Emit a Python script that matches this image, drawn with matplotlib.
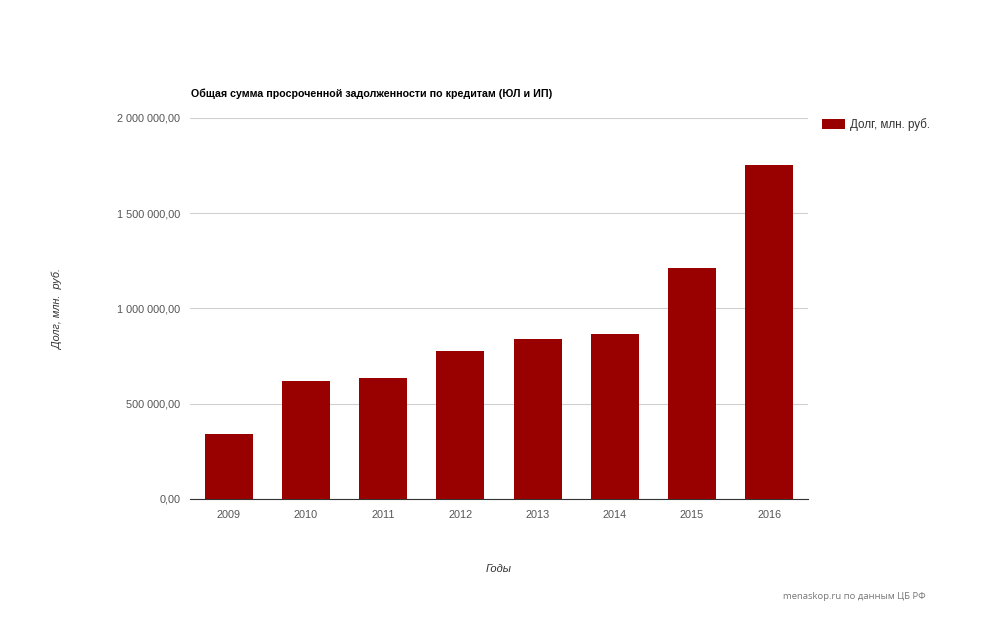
import matplotlib
matplotlib.use("Agg")
import matplotlib.pyplot as plt
from matplotlib.ticker import FuncFormatter

years = ["2009", "2010", "2011", "2012", "2013", "2014", "2015", "2016"]
debt = [341000, 620000, 636000, 778000, 840000, 866000, 1213000, 1753000]
yticks = [0, 500000, 1000000, 1500000, 2000000]

plt.rcParams['font.family'] = ['Liberation Sans', 'DejaVu Sans']

fig = plt.figure(figsize=(10, 6.18), dpi=100)
ax = fig.add_axes([0.19, 0.1926, 0.618, 0.6165])

x = range(len(years))
ax.bar(x, debt, width=0.62, color="#990000", label="Долг, млн. руб.", zorder=3)
ax.set_xlim(-0.5, len(years) - 0.5)
ax.set_ylim(0, 2000000)
ax.set_yticks(yticks)

def fmt(v, pos):
    s = f"{int(v):,}".replace(",", " ")
    return s + ",00"
ax.yaxis.set_major_formatter(FuncFormatter(fmt))
ax.set_xticks(list(x))
ax.set_xticklabels(years)

ax.grid(axis='y', color="#d0d0d0", linewidth=0.8, zorder=0)
for s in ['top', 'right', 'left']:
    ax.spines[s].set_visible(False)
ax.spines['bottom'].set_color("#333333")
ax.spines['bottom'].set_linewidth(0.8)
ax.tick_params(axis='both', length=0, labelsize=7.8, colors="#555555")
ax.tick_params(axis='x', pad=8)
ax.tick_params(axis='y', pad=7)

fig.text(0.191, 0.848, "Общая сумма просроченной задолженности по кредитам (ЮЛ и ИП)",
         fontsize=7.7, fontweight='bold', color="#000000", ha='left', va='center')
fig.text(0.058, 0.50, "Долг, млн.  руб.", rotation=90, fontsize=7.8, style='italic',
         color="#333333", ha='center', va='center')
fig.text(0.499, 0.08, "Годы", fontsize=8, style='italic', color="#333333",
         ha='center', va='center')
fig.text(0.926, 0.034, "menaskop.ru по данным ЦБ РФ", fontsize=6.8, color="#777777",
         ha='right', va='center', family=['Open Sans', 'DejaVu Sans'])

leg = ax.legend(loc='upper left', bbox_to_anchor=(1.01, 1.02), frameon=False,
                fontsize=8.4, handlelength=1.9, handleheight=0.95,
                handletextpad=0.45, borderaxespad=0.3)
for t in leg.get_texts():
    t.set_color("#333333")

fig.savefig("out.png", dpi=100)
